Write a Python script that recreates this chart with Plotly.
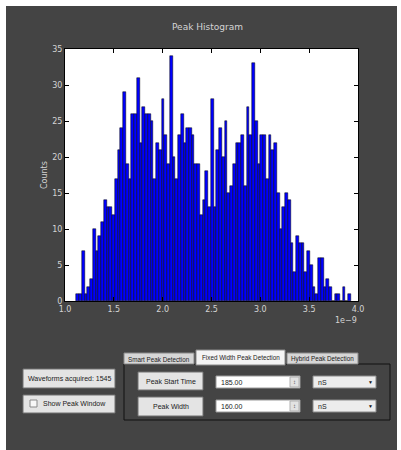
import plotly.graph_objects as go

# ---------------- data ----------------
counts = [1, 1, 7, 1, 2, 3, 10, 7, 9, 11,
          14, 13, 13, 12, 17, 21, 24, 29, 19, 17,
          26, 26, 31, 22, 27, 26, 26, 25, 17, 22,
          21, 28, 23, 19, 34, 20, 17, 23, 26, 22,
          24, 24, 23, 19, 19, 12, 14, 18, 13, 28,
          13, 21, 24, 20, 25, 15, 16, 19, 22, 22,
          23, 16, 27, 23, 33, 25, 19, 23, 23, 17,
          23, 21, 22, 15, 10, 13, 15, 14, 8, 4,
          9, 8, 8, 4, 7, 5, 2, 1, 6, 6,
          2, 3, 2, 0, 1, 1, 0, 2, 0, 1]
bin_lo = 1.117   # x 1e-9 s
bin_hi = 3.928
x_tick_vals = [1.0, 1.5, 2.0, 2.5, 3.0, 3.5, 4.0]
x_tick_text = ["1.0", "1.5", "2.0", "2.5", "3.0", "3.5", "4.0"]
y_tick_vals = [0, 5, 10, 15, 20, 25, 30, 35]
y_tick_text = ["0", "5", "10", "15", "20", "25", "30", "35"]
chart_title = "Peak Histogram"
y_label = "Counts"
offset_label = "1e\u22129"
tab_labels = ["Smart Peak Detection", "Fixed Width Peak Detection", "Hybrid Peak Detection"]
acquired_label = "Waveforms acquired: 1545"
checkbox_label = "Show Peak Window"
param_labels = ["Peak Start Time", "Peak Width"]
param_values = ["185.00", "160.00"]
param_units = ["nS", "nS"]

# ---------------- geometry ----------------
W, H = 401, 450
L, R, T, B = 65, 43, 49, 149
PW, PH = W - L - R, H - T - B

def fx(p):
    return (p - L) / PW

def fy(p):
    return (H - B - p) / PH

n_bins = len(counts)
bw = (bin_hi - bin_lo) / n_bins
centers = [bin_lo + (i + 0.5) * bw for i in range(n_bins)]

DARK = "#444444"
LIGHT_TXT = "#d4d4d4"

fig = go.Figure()
fig.add_trace(go.Bar(
    x=centers, y=counts, width=[bw] * n_bins,
    marker=dict(color="#0000ff", line=dict(color="#000000", width=0.5)),
    hoverinfo="x+y", showlegend=False,
))

shapes = []
annotations = []

def rect(x0, y0, x1, y1, fill, line="#707070", lw=1):
    shapes.append(dict(type="rect", xref="paper", yref="paper",
                       x0=fx(x0), x1=fx(x1), y0=fy(y0), y1=fy(y1),
                       fillcolor=fill, line=dict(color=line, width=lw), layer="above"))

def text(x, y, s, size=7, color="#1a1a1a", xanchor="center", angle=0, family="Liberation Sans"):
    annotations.append(dict(xref="paper", yref="paper", x=fx(x), y=fy(y), text=s,
                            showarrow=False, xanchor=xanchor, yanchor="middle",
                            textangle=angle, font=dict(size=size, color=color, family=family)))

# white window border
rect(0, 0, 6, H, "#ffffff", line="#ffffff", lw=0)
rect(0, 0, W, 6, "#ffffff", line="#ffffff", lw=0)
rect(397, 0, W, H, "#ffffff", line="#ffffff", lw=0)

# chart texts
text(207, 27, chart_title, size=9, color=LIGHT_TXT, family="DejaVu Sans")
text(44, 175, y_label, size=8, color=LIGHT_TXT, angle=-90, family="DejaVu Sans")
text(346, 320, offset_label, size=8, color=LIGHT_TXT, family="DejaVu Sans")

# tab pane
rect(124, 364, 390, 420, "rgba(0,0,0,0)", line="#111111", lw=1)
tab_x = [(124, 194, 353), (196, 285, 350), (287, 358, 353)]
for (x0, x1, y0), lab, sel in zip(tab_x, tab_labels, [False, True, False]):
    rect(x0, y0, x1, 364 if not sel else 365, "#f4f4f4" if sel else "#d6d6d6", line="#8a8a8a")
    text((x0 + x1) / 2, (y0 + 364) / 2 + 0.5, lab, size=6.3)

# left buttons
rect(23, 369, 115, 388, "#e4e4e4")
text(69, 378.5, acquired_label, size=7)
rect(23, 395, 115, 413, "#e4e4e4")
rect(30, 400, 37, 407, "#f8f8f8", line="#8a8a8a")
text(41, 403.5, checkbox_label, size=7, xanchor="left")

# parameter rows
row_y = [(372, 390, 376, 388), (397, 416, 400, 412)]
for (by0, by1, sy0, sy1), lab, val, unit in zip(row_y, param_labels, param_values, param_units):
    rect(138, by0, 203, by1, "#e4e4e4")
    text(170.5, (by0 + by1) / 2, lab, size=7)
    rect(216, sy0, 300, sy1, "#ffffff", line="#9a9a9a")
    rect(290, sy0 + 1, 299, sy1 - 1, "#e2e2e2", line="#b0b0b0")
    text(294.5, (sy0 + sy1) / 2, "\u2195", size=6, color="#555555")
    text(219, (sy0 + sy1) / 2, val, size=7, xanchor="left")
    rect(313, sy0, 376, sy1, "#ececec", line="#8a8a8a")
    text(316, (sy0 + sy1) / 2, unit, size=7, xanchor="left")
    text(370, (sy0 + sy1) / 2, "\u25BC", size=5, color="#111111")

fig.update_layout(
    width=W, height=H,
    margin=dict(l=L, r=R, t=T, b=B, pad=0),
    paper_bgcolor=DARK, plot_bgcolor="#ffffff",
    bargap=0,
    shapes=shapes, annotations=annotations,
    font=dict(family="DejaVu Sans", size=8, color=LIGHT_TXT),
    xaxis=dict(range=[1.0, 4.0], tickvals=x_tick_vals, ticktext=x_tick_text,
               showgrid=False, zeroline=False, showline=True, linecolor="#000000",
               linewidth=1, mirror="ticks", ticks="inside", ticklen=4,
               tickcolor="#000000", tickfont=dict(size=8, color=LIGHT_TXT)),
    yaxis=dict(range=[0, 35], tickvals=y_tick_vals, ticktext=y_tick_text,
               showgrid=False, zeroline=False, showline=True, linecolor="#000000",
               linewidth=1, mirror="ticks", ticks="inside", ticklen=4,
               tickcolor="#000000", tickfont=dict(size=8, color=LIGHT_TXT)),
)

fig.write_html("out.html", config={"displayModeBar": False},
               post_script="document.body.style.margin='0';")
